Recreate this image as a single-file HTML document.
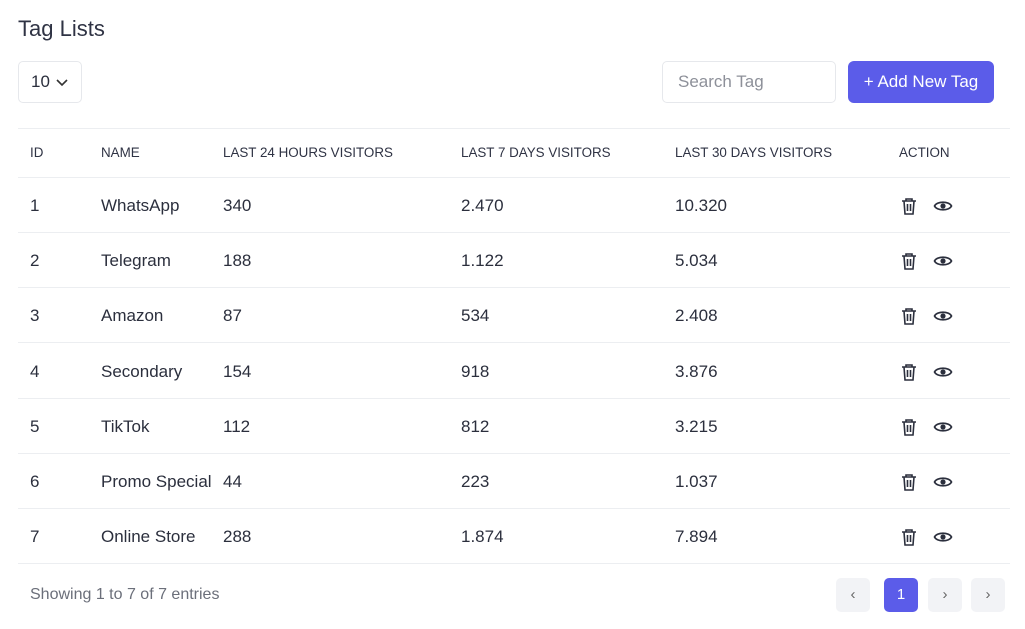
<!DOCTYPE html>
<html><head><meta charset="utf-8"><style>
*{box-sizing:border-box;margin:0;padding:0}
body{width:1025px;height:629px;background:#fff;font-family:"Liberation Sans",sans-serif;color:#2b2f3d;position:relative;overflow:hidden}
.a{position:absolute}
.title{left:18px;top:16px;font-size:22px;color:#2f3344}
.box{border:1px solid #e6e8ec;border-radius:5px}
.line{left:18px;width:992px;height:1px;background:#eceef1}
.h{top:145px;font-size:13.4px;color:#2f3344}
.c{font-size:17px;color:#2b2f3d}
.pg{top:578px;width:34px;height:34px;border-radius:5px;background:#f2f3f6;color:#666;text-align:center;line-height:34px;font-size:15px}
</style></head><body>
<div class="a title">Tag Lists</div>
<div class="a box" style="left:18px;top:61px;width:64px;height:42px"></div>
<div class="a" style="left:31px;top:72px;font-size:17px">10</div>
<svg class="a" style="left:56px;top:79px" width="12" height="8"><path d="M1 1 L6 6 L11 1" stroke="#333" stroke-width="1.6" fill="none"/></svg>
<div class="a box" style="left:662px;top:61px;width:174px;height:42px"></div>
<div class="a" style="left:678px;top:72px;font-size:17px;color:#8d9099">Search Tag</div>
<div class="a" style="left:848px;top:61px;width:146px;height:42px;background:#5b5ce9;border-radius:6px;color:#fff;font-size:17px;line-height:42px;text-align:center">+ Add New Tag</div>
<div class="a line" style="top:128px"></div>
<div class="a h" style="left:30px">ID</div>
<div class="a h" style="left:101px">NAME</div>
<div class="a h" style="left:223px">LAST 24 HOURS VISITORS</div>
<div class="a h" style="left:461px">LAST 7 DAYS VISITORS</div>
<div class="a h" style="left:675px">LAST 30 DAYS VISITORS</div>
<div class="a h" style="left:899px">ACTION</div>
<div class="a line" style="top:177px"></div>
<div id="rows"></div>
<div class="a" style="left:30px;top:586px;font-size:16px;color:#6b6f7a">Showing 1 to 7 of 7 entries</div>
<div class="a pg" style="left:836px">‹</div>
<div class="a pg" style="left:884px;background:#5b5ce9;color:#fff">1</div>
<div class="a pg" style="left:928px">›</div>
<div class="a pg" style="left:971px">›</div>
<script>
var d=[["1","WhatsApp","340","2.470","10.320"],["2","Telegram","188","1.122","5.034"],["3","Amazon","87","534","2.408"],["4","Secondary","154","918","3.876"],["5","TikTok","112","812","3.215"],["6","Promo Special","44","223","1.037"],["7","Online Store","288","1.874","7.894"]];
var x=[30,101,223,461,675],h="";
d.forEach(function(r,i){var y=205+i*55.2;
r.forEach(function(t,j){h+='<div class="a c" style="left:'+x[j]+'px;top:'+(y-9)+'px">'+t+'</div>';});
h+='<svg class="a" style="left:900px;top:'+(y-8)+'px" width="18" height="18"><path d="M2 4H16M6 4V2H12V4M4 4L5 17H13L14 4M7.5 7V14M10.5 7V14" stroke="#2b2f3d" stroke-width="1.6" fill="none"/></svg>';
h+='<svg class="a" style="left:933px;top:'+(y-7)+'px" width="20" height="16"><path d="M1.5 8C4 3 16 3 18.5 8C16 13 4 13 1.5 8Z" stroke="#2b2f3d" stroke-width="1.7" fill="none"/><circle cx="10" cy="8" r="2.6" fill="#2b2f3d"/></svg>';
h+='<div class="a line" style="top:'+Math.round(y+27)+'px"></div>';});
document.getElementById("rows").innerHTML=h;
</script>
</body></html>
